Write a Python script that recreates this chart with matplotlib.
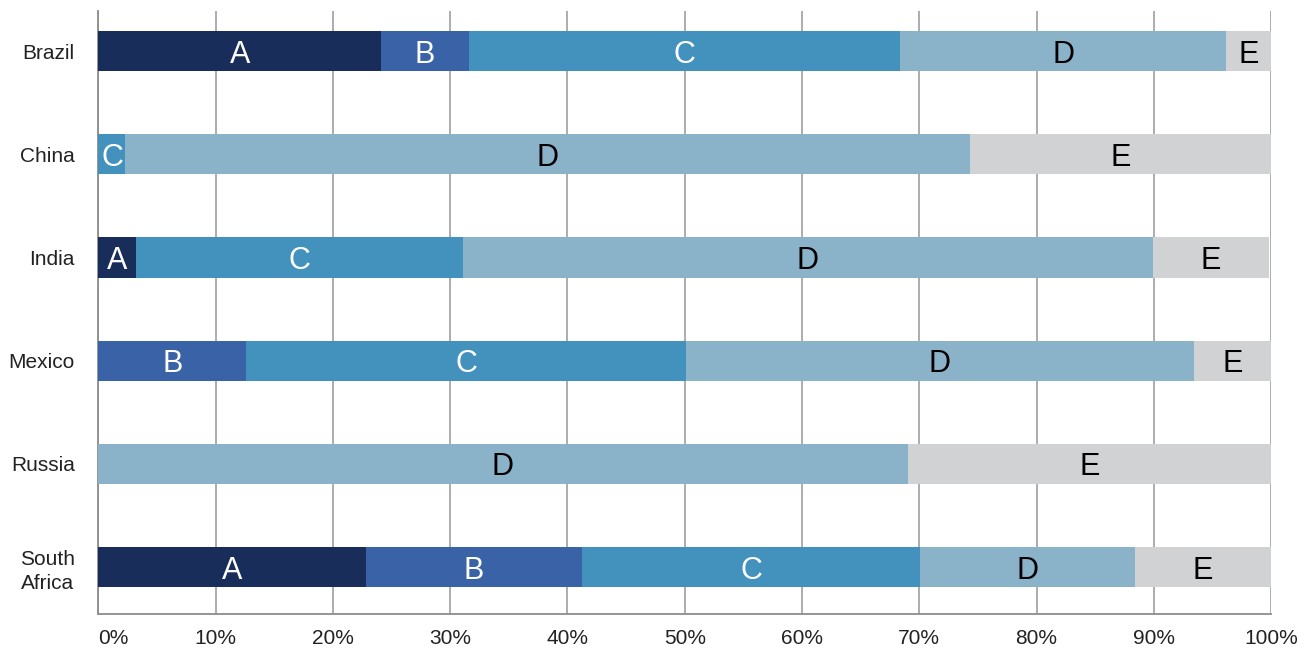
import matplotlib.pyplot as plt
import numpy as np

plt.rcParams['font.family'] = ['Liberation Sans', 'DejaVu Sans']

countries = ["Brazil", "China", "India", "Mexico", "Russia", "South\nAfrica"]
segments = ["A", "B", "C", "D", "E"]

# share of each segment per country, in %
seg_a = [24.1, 0.0, 3.2, 0.0, 0.0, 22.8]
seg_b = [7.5, 0.0, 0.0, 12.6, 0.0, 18.4]
seg_c = [36.8, 2.3, 27.9, 37.5, 0.0, 28.9]
seg_d = [27.8, 72.0, 58.8, 43.3, 69.0, 18.3]
seg_e = [3.8, 25.7, 9.9, 6.6, 31.0, 11.6]

colors = ["#182d5a", "#3963a6", "#4391bd", "#8ab3c9", "#d1d2d4"]
text_colors = ["white", "white", "white", "black", "black"]

fig = plt.figure(figsize=(13.11, 6.51), dpi=100)
ax = fig.add_axes([0.0751, 0.0568, 0.8944, 0.9262])

y = np.arange(len(countries))
left = np.zeros(len(countries))
for name, vals, col, tcol in zip(segments, [seg_a, seg_b, seg_c, seg_d, seg_e], colors, text_colors):
    vals = np.array(vals)
    ax.barh(y, vals, left=left, height=0.388, color=col, zorder=3)
    for yi, l, v in zip(y, left, vals):
        if v > 0:
            ax.annotate(name, (l + v / 2, yi), xytext=(0, -2.5), textcoords="offset points",
                        ha="center", va="center", fontsize=22, color=tcol, zorder=4)
    left += vals

ax.set_xlim(0, 100)
ax.set_ylim(5.455, -0.388)
ax.set_yticks(y)
ax.set_yticklabels(countries, fontsize=15, color="#222222",
                   multialignment="center", linespacing=1.35)
ax.set_xticks(np.arange(0, 101, 10))
ax.set_xticklabels([f"{t}%" for t in range(0, 101, 10)], fontsize=15, color="#222222")
ax.get_xticklabels()[0].set_ha("left")
ax.tick_params(axis="both", length=0)
ax.tick_params(axis="y", pad=17)
ax.tick_params(axis="x", pad=11)

ax.grid(axis="x", color="#a6a6a6", linewidth=1.3, zorder=0)
ax.grid(axis="y", visible=False)
for s in ["top", "right"]:
    ax.spines[s].set_visible(False)
for s in ["left", "bottom"]:
    ax.spines[s].set_color("#8c8c8c")
    ax.spines[s].set_linewidth(1.3)

fig.savefig("out.png", dpi=100)
